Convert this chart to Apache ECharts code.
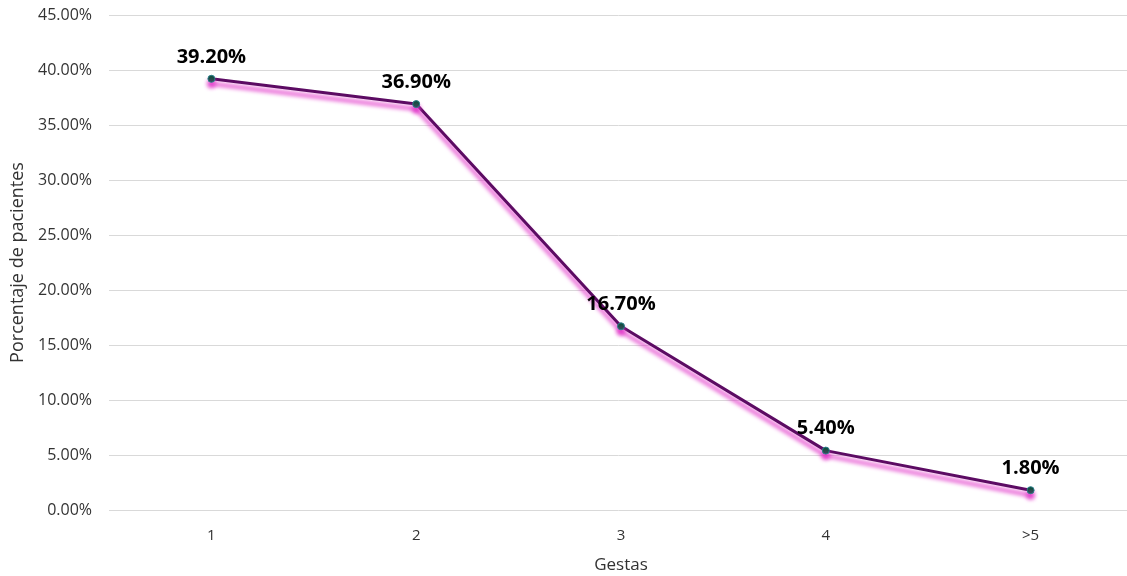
<!DOCTYPE html>
<html>
<head>
<meta charset="utf-8">
<script src="https://cdn.jsdelivr.net/npm/echarts@6/dist/echarts.min.js"></script>
<style>
  html, body { margin: 0; padding: 0; background: #fff; }
  #main { width: 1127px; height: 576px; }
</style>
</head>
<body>
<div id="main"></div>
<script>
var myChart = echarts.init(document.getElementById('main'));

var categories = ['1', '2', '3', '4', '>5'];
var values = [39.2, 36.9, 16.7, 5.4, 1.8];
var yTicks = { min: 0, max: 45, interval: 5 };

var font = '"Open Sans", "Noto Sans", sans-serif';

var option = {
    backgroundColor: '#ffffff',
    grid: {
        left: 109,
        right: -6,
        top: 15,
        bottom: 66,
        outerBoundsMode: 'none'
    },
    xAxis: {
        type: 'category',
        data: categories,
        name: 'Gestas',
        nameLocation: 'middle',
        nameGap: 47,
        nameTextStyle: { color: '#333', fontSize: 17, fontFamily: font },
        axisLine: { show: false },
        axisTick: { show: false },
        axisLabel: { color: '#333', fontSize: 15, fontFamily: font, margin: 18 }
    },
    yAxis: {
        type: 'value',
        min: yTicks.min,
        max: yTicks.max,
        interval: yTicks.interval,
        name: 'Porcentaje de pacientes',
        nameLocation: 'middle',
        nameGap: 82,
        nameTextStyle: { color: '#333', fontSize: 18, fontFamily: font },
        axisLine: { show: false },
        axisTick: { show: false },
        splitLine: { lineStyle: { color: '#d9d9d9', width: 1 } },
        axisLabel: {
            color: '#333',
            fontSize: 16,
            fontFamily: font,
            margin: 17,
            formatter: function (v) { return v.toFixed(2) + '%'; }
        }
    },
    series: [
        {
            type: 'line',
            data: values,
            symbol: 'circle',
            symbolSize: 7,
            lineStyle: {
                color: '#5c0b63',
                width: 3,
                shadowColor: 'rgba(225, 50, 200, 1)',
                shadowBlur: 4,
                shadowOffsetY: 5
            },
            itemStyle: {
                color: '#0d4f3c',
                borderColor: '#2a7f8a',
                borderWidth: 1,
                shadowColor: 'rgba(225, 50, 200, 1)',
                shadowBlur: 4,
                shadowOffsetY: 5
            },
            label: {
                show: true,
                position: 'top',
                distance: 8,
                color: '#000',
                fontSize: 20,
                fontWeight: 'bold',
                fontFamily: font,
                formatter: function (p) { return p.value.toFixed(2) + '%'; }
            },
            z: 3
        }
    ]
};

myChart.setOption(option);
</script>
</body>
</html>
